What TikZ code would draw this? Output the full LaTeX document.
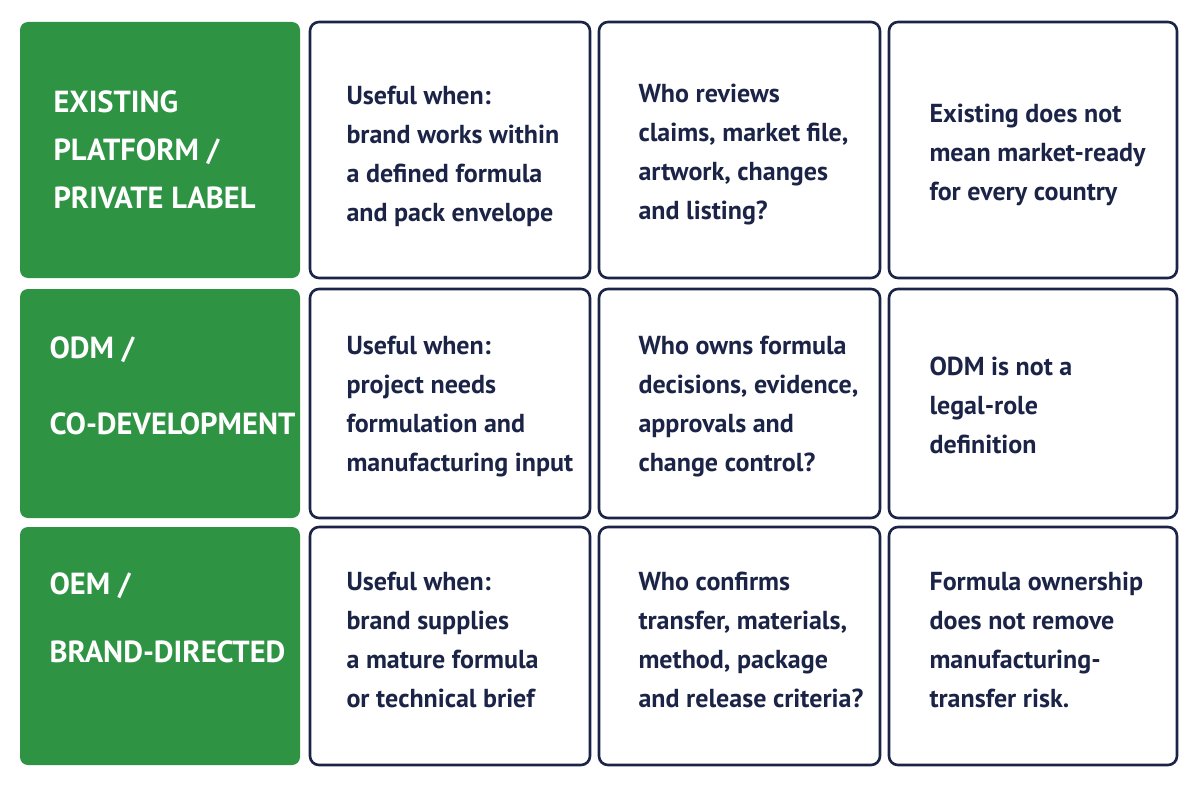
\documentclass[tikz,border=0pt]{standalone}
\usepackage{fontspec}
\setmainfont{PT Sans}
\definecolor{gr}{HTML}{2E9444}
\definecolor{nv}{HTML}{1B2447}
\begin{document}
\begin{tikzpicture}[x=1pt,y=-1pt,
 lab/.style={fill=gr,rounded corners=8pt,draw=none},
 cell/.style={draw=nv,line width=2.6pt,rounded corners=9pt,fill=white},
 lt/.style={anchor=west,text=white,font=\bfseries\fontsize{30.5}{48}\selectfont,align=left},
 ct/.style={anchor=west,text=nv,font=\bfseries\fontsize{26}{39}\selectfont,align=left}]
\useasboundingbox (0,0) rectangle (1200,800);
\fill[white] (0,0) rectangle (1200,800);
\foreach \t/\b [count=\i] in {22/278,289/518,527/765}{
 \draw[lab] (20,\t) rectangle (300,\b);
 \draw[cell] (310,\t) rectangle (590,\b);
 \draw[cell] (599,\t) rectangle (880,\b);
 \draw[cell] (889,\t) rectangle (1177,\b);
}
\node[lt] (a1) at (50,150) {EXISTING\\PLATFORM /\\PRIVATE LABEL};
\node[lt,font=\bfseries\fontsize{30.5}{76}\selectfont] (a2) at (46,386) {ODM /\\CO-DEVELOPMENT};
\node[lt,font=\bfseries\fontsize{30.5}{68}\selectfont] (a3) at (46,618) {OEM /\\BRAND-DIRECTED};
\node[ct] (b1) at (343,156) {Useful when:\\brand works within\\a defined formula\\and pack envelope};
\node[ct] (c1) at (635,155) {Who reviews\\claims, market file,\\artwork, changes\\and listing?};
\node[ct] (d1) at (926,155) {Existing does not\\mean market-ready\\for every country};
\node[ct] (b2) at (343,407) {Useful when:\\project needs\\formulation and\\manufacturing input};
\node[ct] (c2) at (635,407) {Who owns formula\\decisions, evidence,\\approvals and\\change control?};
\node[ct] (d2) at (926,405) {ODM is not a\\legal-role\\definition};
\node[ct] (b3) at (343,640) {Useful when:\\brand supplies\\a mature formula\\or technical brief};
\node[ct] (c3) at (635,640) {Who confirms\\transfer, materials,\\method, package\\and release criteria?};
\node[ct] (d3) at (926,640) {Formula ownership\\does not remove\\manufacturing-\\transfer risk.};
\end{tikzpicture}
\end{document}
